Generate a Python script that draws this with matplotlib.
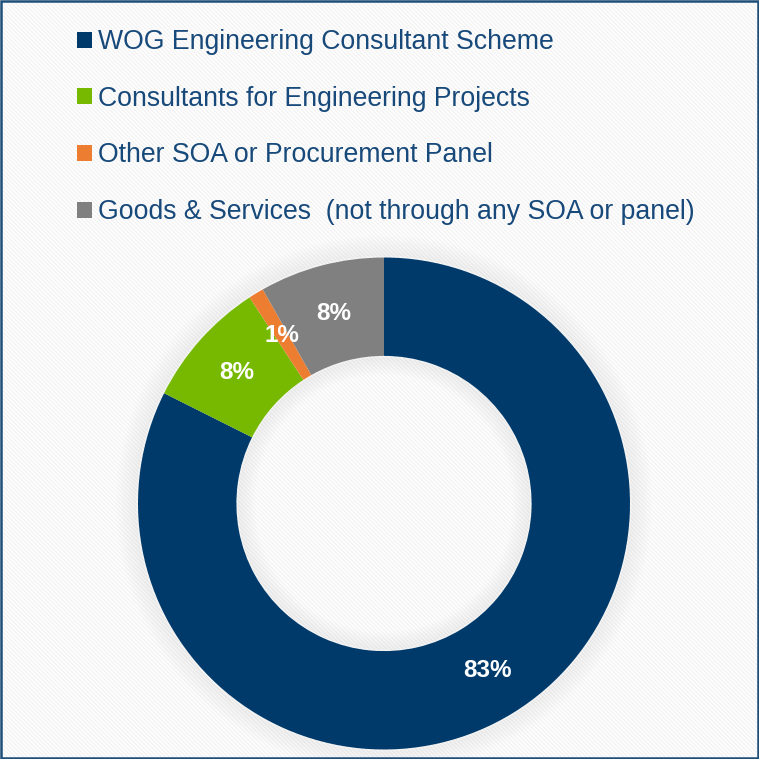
import matplotlib.pyplot as plt
from matplotlib.patches import Rectangle, Circle

# data
categories = ["WOG Engineering Consultant Scheme",
              "Consultants for Engineering Projects",
              "Other SOA or Procurement Panel",
              "Goods & Services  (not through any SOA or panel)"]
shares = [82.4, 8.4, 1.0, 8.2]
pct_labels = ["83%", "8%", "1%", "8%"]
colors = ["#003a6b", "#76b900", "#ed7d31", "#808080"]

plt.rcParams["font.family"] = ["Liberation Sans", "DejaVu Sans"]
plt.rcParams["hatch.linewidth"] = 1.0

W = H = 759
fig = plt.figure(figsize=(7.59, 7.59), dpi=100)
fig.patch.set_facecolor("white")

# faint diagonal stripe background
bg = Rectangle((0, 0), 1, 1, transform=fig.transFigure, facecolor="white",
               edgecolor="#f3f3f3", hatch="\\" * 8, linewidth=0, zorder=-10)
fig.patches.append(bg)

# donut axes
cx, cy, R = 384, 759 - 503.5, 246
lim = 1.12
size = 2 * R * lim
ax = fig.add_axes([(cx - R * lim) / W, (cy - R * lim) / H, size / W, size / H])
ax.axis("off")

# soft shadow halo
for i in range(12):
    r = 1.0 + 0.007 * (i + 1)
    ax.add_patch(Circle((0, 0), r, facecolor="none", edgecolor="#a0a0a0",
                        linewidth=2.2, alpha=0.08 * (1 - i / 12), zorder=0))
for i in range(12):
    r = 0.6 - 0.006 * (i + 1)
    ax.add_patch(Circle((0, 0), r, facecolor="none", edgecolor="#a0a0a0",
                        linewidth=2.0, alpha=0.08 * (1 - i / 12), zorder=0))

wedges, texts = ax.pie(shares, colors=colors, startangle=90, counterclock=False,
                       radius=1.0, wedgeprops=dict(width=0.4, linewidth=0),
                       labels=pct_labels, labeldistance=0.8)
for t in texts:
    t.set_color("white")
    t.set_fontsize(17.5)
    t.set_fontweight("bold")
    t.set_ha("center")
    t.set_va("center")

ax.set_xlim(-lim, lim)
ax.set_ylim(-lim, lim)
ax.set_aspect("equal")

# legend
fig.legend(wedges, categories, loc="upper left", bbox_to_anchor=(77 / W, 1 - 29 / H),
           frameon=False, fontsize=19.2, labelcolor="#17497a",
           handlelength=0.55, handleheight=0.55, handletextpad=0.25,
           labelspacing=1.15, borderpad=0, borderaxespad=0)

# frame
fig.patches.append(Rectangle((0.0015, 0.0015), 0.997, 0.997, transform=fig.transFigure,
                             facecolor="none", edgecolor="#1f4e79", linewidth=1.8,
                             zorder=10))

fig.savefig("out.png", dpi=100)
